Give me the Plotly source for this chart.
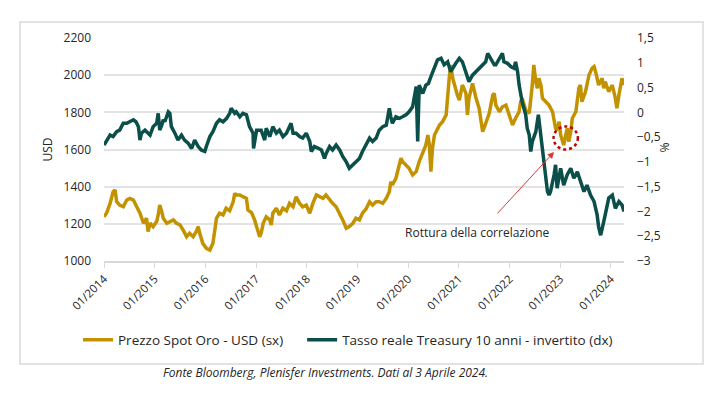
import plotly.graph_objects as go
from datetime import datetime, timedelta

# ---- data (decimal year, value) ----
gold_t = [2014.00,2014.05,2014.12,2014.18,2014.22,2014.25,2014.31,2014.38,2014.45,2014.51,2014.58,2014.64,2014.71,2014.78,2014.84,2014.87,2014.91,2014.97,
          2015.04,2015.07,2015.10,2015.14,2015.17,2015.24,2015.30,2015.37,2015.43,2015.50,2015.56,2015.63,2015.69,2015.76,2015.82,2015.86,2015.89,2015.95,
          2016.02,2016.09,2016.15,2016.18,2016.22,2016.28,2016.35,2016.41,2016.48,2016.55,2016.58,2016.61,2016.68,2016.74,2016.81,2016.84,2016.91,2016.97,
          2017.04,2017.07,2017.10,2017.14,2017.20,2017.27,2017.30,2017.33,2017.40,2017.46,2017.53,2017.60,2017.66,2017.73,2017.79,2017.86,2017.92,2017.99,
          2018.06,2018.12,2018.19,2018.25,2018.32,2018.38,2018.45,2018.51,2018.58,2018.65,2018.71,2018.78,2018.84,2018.91,2018.97,
          2019.04,2019.10,2019.17,2019.24,2019.30,2019.37,2019.43,2019.50,2019.57,2019.63,2019.66,2019.69,2019.76,2019.83,2019.86,2019.89,2019.96,
          2020.02,2020.09,2020.16,2020.22,2020.29,2020.35,2020.39,2020.42,2020.45,2020.48,2020.52,2020.55,2020.62,2020.68,2020.75,2020.81,2020.84,2020.88,2020.91,2020.97,
          2021.01,2021.07,2021.14,2021.17,2021.20,2021.27,2021.34,2021.40,2021.47,2021.50,2021.53,2021.60,2021.67,2021.70,2021.73,2021.80,2021.86,2021.93,2021.99,
          2022.06,2022.12,2022.19,2022.22,2022.25,2022.32,2022.39,2022.45,2022.48,2022.52,2022.55,2022.58,2022.62,2022.65,2022.71,2022.78,2022.85,2022.88,2022.91,2022.94,2022.98,
          2023.01,2023.04,2023.07,2023.11,2023.14,2023.17,2023.21,2023.24,2023.31,2023.37,2023.40,2023.43,2023.50,2023.57,2023.63,2023.67,2023.70,2023.76,2023.83,2023.86,2023.89,2023.96,
          2024.03,2024.09,2024.12,2024.16,2024.19,2024.22,2024.26]
gold_v = [1238,1257,1310,1373,1382,1319,1301,1292,1328,1337,1328,1292,1257,1203,1230,1158,1203,1185,
          1212,1248,1301,1266,1230,1203,1212,1221,1203,1194,1167,1131,1149,1131,1158,1185,1149,1095,
          1068,1059,1095,1149,1230,1257,1248,1284,1270,1320,1364,1355,1355,1346,1337,1274,1260,1221,
          1167,1131,1149,1203,1238,1221,1194,1257,1284,1248,1284,1270,1310,1292,1346,1310,1292,1301,
          1257,1310,1355,1346,1337,1355,1328,1310,1292,1257,1221,1176,1185,1203,1230,
          1221,1257,1280,1319,1301,1319,1319,1310,1337,1373,1427,1409,1445,1517,1553,1535,1517,
          1499,1463,1481,1535,1588,1624,1678,1624,1481,1606,1678,1696,1732,1750,1786,1983,2055,1983,1947,1893,
          1866,1947,1902,1786,1876,1956,1876,1822,1696,1714,1741,1795,1893,1902,1839,1803,1830,1839,1786,
          1732,1768,1803,1857,1876,1813,1795,1947,2055,1965,1929,1983,1947,1876,1857,1839,1803,1768,1714,1705,1750,
          1678,1642,1624,1678,1714,1642,1696,1768,1803,1929,1947,1857,1911,2001,2037,2046,2019,1947,1983,1929,1965,1911,
          1947,1876,1822,1893,1929,1983,1947]

rate_t = [2014.00,2014.06,2014.12,2014.18,2014.25,2014.31,2014.38,2014.45,2014.51,2014.58,2014.63,2014.68,2014.71,2014.74,2014.81,2014.91,2014.97,
          2015.04,2015.07,2015.10,2015.14,2015.17,2015.20,2015.27,2015.30,2015.33,2015.40,2015.46,2015.53,2015.59,2015.66,2015.73,2015.79,2015.86,2015.92,2015.99,
          2016.02,2016.09,2016.15,2016.22,2016.28,2016.35,2016.42,2016.48,2016.51,2016.58,2016.61,2016.68,2016.74,2016.81,2016.87,2016.94,2016.95,
          2017.01,2017.10,2017.17,2017.20,2017.27,2017.33,2017.40,2017.46,2017.53,2017.60,2017.66,2017.69,2017.73,2017.79,2017.86,2017.92,2017.99,
          2018.06,2018.09,2018.15,2018.22,2018.29,2018.35,2018.38,2018.45,2018.51,2018.58,2018.65,2018.71,2018.78,2018.84,2018.91,2018.97,
          2019.04,2019.10,2019.17,2019.24,2019.30,2019.37,2019.43,2019.50,2019.57,2019.63,2019.66,2019.69,2019.76,2019.83,2019.89,2019.96,
          2020.02,2020.09,2020.16,2020.19,2020.22,2020.29,2020.35,2020.40,2020.45,2020.52,2020.58,2020.65,2020.71,2020.78,2020.84,2020.94,
          2021.01,2021.07,2021.14,2021.20,2021.27,2021.34,2021.40,2021.47,2021.53,2021.57,2021.63,2021.70,2021.73,2021.80,2021.86,2021.89,2021.96,
          2022.03,2022.09,2022.12,2022.16,2022.19,2022.25,2022.32,2022.35,2022.39,2022.42,2022.45,2022.52,2022.57,2022.62,2022.65,2022.68,2022.71,2022.75,2022.78,2022.81,2022.88,2022.91,2022.94,
          2023.01,2023.07,2023.14,2023.21,2023.27,2023.34,2023.40,2023.47,2023.53,2023.60,2023.67,2023.73,2023.76,2023.80,2023.86,2023.93,2023.96,
          2024.03,2024.09,2024.16,2024.22,2024.26]
rate_v = [-0.66,-0.55,-0.46,-0.49,-0.39,-0.36,-0.22,-0.22,-0.19,-0.15,-0.19,-0.29,-0.56,-0.42,-0.36,-0.46,-0.29,
          -0.22,-0.02,-0.36,-0.26,-0.15,-0.19,0.01,-0.02,-0.29,-0.42,-0.56,-0.46,-0.56,-0.62,-0.73,-0.56,-0.69,-0.76,-0.79,
          -0.69,-0.49,-0.39,-0.22,-0.15,-0.19,-0.12,-0.02,0.08,-0.02,0.01,-0.09,-0.02,-0.05,-0.29,-0.42,-0.73,
          -0.36,-0.36,-0.56,-0.32,-0.49,-0.29,-0.42,-0.36,-0.49,-0.42,-0.29,-0.22,-0.42,-0.42,-0.49,-0.52,-0.42,
          -0.59,-0.79,-0.69,-0.72,-0.76,-0.93,-0.84,-0.69,-0.76,-0.66,-0.76,-0.89,-1.00,-1.13,-1.06,-1.00,
          -0.93,-0.79,-0.66,-0.52,-0.59,-0.52,-0.36,-0.29,-0.26,0.08,-0.09,-0.22,-0.09,-0.12,-0.09,-0.05,
          0.01,0.11,0.52,-0.59,0.55,0.38,0.55,0.58,0.72,0.89,1.06,1.09,0.96,1.02,0.82,0.99,
          1.09,1.02,0.82,0.62,0.75,0.82,0.89,0.96,1.02,1.19,1.09,0.96,0.96,1.09,1.19,1.02,0.99,
          0.92,0.89,1.02,0.82,0.55,0.21,-0.05,-0.32,-0.46,-0.79,-0.59,-0.39,-0.05,-0.46,-0.73,-1.00,-1.26,-1.60,-1.67,-1.60,-1.26,-1.06,-1.53,
          -1.13,-1.47,-1.26,-1.13,-1.33,-1.20,-1.40,-1.60,-1.47,-1.67,-1.80,-2.07,-2.31,-2.48,-2.21,-1.87,-1.73,
          -1.67,-1.94,-1.80,-1.87,-2.00]

year_ticks = [2014, 2015, 2016, 2017, 2018, 2019, 2020, 2021, 2022, 2023, 2024]
year_labels = ["01/%d" % y for y in year_ticks]
left_ticks = [1000, 1200, 1400, 1600, 1800, 2000, 2200]
right_ticks = [-3, -2.5, -2, -1.5, -1, -0.5, 0, 0.5, 1, 1.5]

GOLD = "#C39200"
TEAL = "#0A4F49"
TXT = "#262626"
FONT = "Open Sans"


def to_date(t):
    y = int(t)
    start = datetime(y, 1, 1)
    days = (datetime(y + 1, 1, 1) - start).days
    return start + timedelta(days=(t - y) * days)


gold_d = [to_date(t) for t in gold_t]
rate_d = [to_date(t) for t in rate_t]

fig = go.Figure()
fig.add_trace(go.Scatter(x=gold_d, y=gold_v, mode="lines",
                         name="Prezzo Spot Oro - USD (sx)&nbsp;&nbsp;&nbsp;&nbsp;",
                         line=dict(color=GOLD, width=3.5), yaxis="y"))
fig.add_trace(go.Scatter(x=rate_d, y=rate_v, mode="lines", name="Tasso reale Treasury 10 anni - invertito (dx)",
                         line=dict(color=TEAL, width=3.5), yaxis="y2"))

fig.update_layout(
    width=712, height=390,
    margin=dict(l=96, r=96, t=30, b=137, autoexpand=False),
    paper_bgcolor="white", plot_bgcolor="white",
    font=dict(family=FONT, size=12, color=TXT),
    separators=", ",
    showlegend=True,
    legend=dict(orientation="h", x=-0.05, xanchor="left", y=-0.354, yanchor="middle",
                font=dict(size=13.5, color=TXT), itemwidth=30, tracegroupgap=0,
                bgcolor="rgba(0,0,0,0)"),
    xaxis=dict(type="date", range=[to_date(2014.0), to_date(2024.26)], automargin=False,
               tickvals=[to_date(y) for y in year_ticks], ticktext=year_labels,
               tickangle=-45, tickfont=dict(size=11.5, color=TXT),
               showgrid=False, showline=True, linecolor="#d9d9d9", linewidth=1.5,
               ticks="outside", ticklen=5, tickcolor="#d9d9d9", zeroline=False),
    yaxis=dict(range=[1000, 2200], tickvals=left_ticks, showgrid=True, gridcolor="#e3e3e3", gridwidth=1.5,
               zeroline=False, showline=False, ticks="", ticklabelstandoff=12, automargin=False,
               tickfont=dict(size=12, color=TXT),
               title=dict(text="USD", font=dict(size=12, color=TXT), standoff=8)),
    yaxis2=dict(range=[-3, 1.5], tickvals=right_ticks, overlaying="y", side="right", showgrid=False,
                zeroline=False, showline=False, ticks="", ticklabelstandoff=12, automargin=False,
                tickfont=dict(size=12, color=TXT)),
)

# outer frame
fig.add_shape(type="rect", xref="paper", yref="paper", x0=-0.1615, x1=1.152, y0=-0.462, y1=1.072,
              line=dict(color="#d9d9d9", width=1.5), fillcolor="rgba(0,0,0,0)", layer="below")

# dotted red circle
fig.add_shape(type="circle", xref="x", yref="y", x0=to_date(2022.87), x1=to_date(2023.35), y0=1600, y1=1724,
              line=dict(color="#C00000", width=2.5, dash="dot"))

# arrow
fig.add_annotation(x=to_date(2022.88), y=1587, xref="x", yref="y", text="", showarrow=True,
                   ax=-58, ay=63, arrowhead=2, arrowsize=1.3, arrowwidth=1, arrowcolor="#D23A3A")
fig.add_annotation(x=to_date(2021.36), y=1156, xref="x", yref="y", text="Rottura della correlazione",
                   showarrow=False, font=dict(size=12, color=TXT))

# right axis title
fig.add_annotation(x=1.098, y=0.507, xref="paper", yref="paper", text="%", showarrow=False,
                   textangle=90, font=dict(size=12, color=TXT))

# footer
fig.add_annotation(x=0.425, y=-0.547, xref="paper", yref="paper",
                   text="<i>Fonte Bloomberg, Plenisfer Investments. Dati al 3 Aprile 2024.</i>",
                   showarrow=False, font=dict(size=12, color=TXT))

fig.write_html("out.html")
